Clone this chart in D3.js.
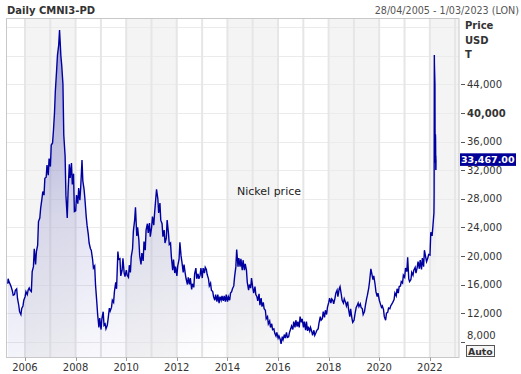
<!DOCTYPE html>
<html>
<head>
<meta charset="utf-8">
<script src="https://cdn.jsdelivr.net/npm/d3@7"></script>
<style>
  body { margin: 0; background: #fff; }
  svg { display: block; font-family: "DejaVu Sans", Verdana, sans-serif; }
</style>
</head>
<body>
<div id="chart"></div>
<script>
// first print of the series (28/04/2005)
const firstDay = "2005-04-28";
const firstPrice = 16100;
// two readings per month from May 2005 to Feb 2022: around the 3rd and around the 15th
const earlyMonthPrice = [
  16800, 16000, 15100, 14600, 15400, 13100, 11800, 13000,                             // 2005 May-Dec
  14300, 14600, 15500, 15000, 18500, 18800, 21500, 25300, 28000, 28500, 31000, 31300, // 2006
  32500, 35800, 40000, 46000, 49500, 48000, 44000, 34000, 25300, 32800, 33000, 31500, // 2007
  26300, 27300, 27800, 33400, 29300, 25500, 23000, 21000, 19500, 18600, 13500, 10000, // 2008
  9700, 12200, 10500, 10300, 12700, 12800, 13500, 16300, 20600, 19600, 18000, 17600,  // 2009
  18000, 17000, 17700, 21000, 25000, 22800, 22200, 18800, 19300, 20800, 24500, 24600, // 2010
  24000, 24300, 27900, 28000, 27400, 24500, 23600, 22500, 23200, 21800, 18000, 17600, // 2011
  17200, 19500, 20000, 17700, 17500, 16000, 16000, 15300, 15600, 18300, 17500, 17300, // 2012
  16900, 17600, 18100, 16800, 16200, 15000, 13800, 13600, 13400, 13800, 13700, 13600, // 2013
  13600, 13800, 15000, 15800, 18500, 18500, 18500, 18000, 18000, 18000, 15200, 15500, // 2014
  15500, 15700, 14300, 14700, 14100, 13500, 12400, 11500, 10900, 10500, 9800, 8800,   // 2015
  8500, 8300, 8700, 9000, 9300, 8700, 9800, 9700, 10000, 10100, 10000, 10700,         // 2016
  10000, 9600, 9500, 9500, 9400, 9600, 9300, 9800, 11500, 11200, 11400, 11800,        // 2017
  13500, 13400, 13800, 14100, 15200, 15400, 14600, 13400, 13500, 13600, 11500, 11300, // 2018
  11000, 12800, 13400, 13300, 12600, 12200, 14000, 15500, 18200, 16700, 16000, 14300, // 2019
  13800, 12800, 12500, 11000, 12100, 12600, 13300, 13900, 14400, 14800, 15800, 16200, // 2020
  17000, 17800, 16800, 16700, 17300, 18400, 18400, 18200, 18100, 18500, 19800, 19700, // 2021
  20100, 22800                                                                        // 2022 Jan-Feb
];
const midMonthPrice = [
  16400, 15700, 14500, 15200, 14050, 12200, 12650, 13800,                             // 2005 May-Dec
  15000, 15200, 15200, 17800, 21000, 20600, 24800, 26650, 29000, 30850, 32700, 33600, // 2006
  35500, 37400, 43000, 48100, 51600, 46700, 36900, 28500, 29000, 30900, 30000, 26200, // 2007
  28500, 29500, 29500, 30500, 28000, 24300, 21800, 20800, 18300, 16000, 11800, 11300, // 2008
  11200, 10300, 9800, 11200, 12300, 13800, 15000, 15400, 19500, 17200, 19650, 17100,  // 2009
  17300, 18700, 19900, 23500, 26800, 24000, 20000, 20400, 22000, 23600, 23200, 22700, // 2010
  25500, 26000, 29300, 26000, 25000, 22700, 21800, 25000, 21600, 19900, 19500, 18500, // 2011
  18600, 21900, 19200, 18800, 16800, 17000, 16900, 16100, 17500, 16800, 16800, 18300, // 2012
  18300, 18400, 17400, 15800, 15200, 14300, 14600, 14600, 14300, 14400, 14400, 14600, // 2013
  14300, 14800, 15400, 17100, 20900, 19700, 19600, 19400, 18900, 16300, 16000, 16900, // 2014
  14800, 14600, 13700, 13100, 12900, 12600, 11200, 10500, 10000, 9700, 9200, 9300,    // 2015
  8800, 7700, 8300, 8500, 8600, 9300, 10200, 10800, 11000, 10800, 11500, 11200,       // 2016
  10800, 10800, 10100, 10000, 8900, 8900, 9600, 10600, 11000, 12200, 12400, 12800,    // 2017
  14100, 14000, 13300, 14800, 14300, 15700, 13800, 14000, 13000, 12600, 12600, 10700, // 2018
  11800, 13000, 12900, 12800, 11800, 13000, 14500, 16400, 17600, 17200, 15000, 14800, // 2019
  13400, 13000, 11500, 12000, 12700, 13000, 13500, 14800, 15400, 15700, 16400, 17300, // 2020
  18300, 19800, 16400, 17700, 18000, 17600, 19200, 19400, 19700, 20800, 19200, 20200, // 2021
  23300, 24200                                                                        // 2022 Jan-Feb
];
// the March 2022 squeeze, day by day
const marchDays  = [1, 3, 4, 7, 8, 16, 17, 18, 21, 22, 23, 25, 28, 29, 30, 31];
const marchPrice = [26000, 27500, 29000, 48100, 47000, 44000, 40000, 35500, 37000, 33000, 37000, 36500, 32000, 34000, 32000, 33467];

const yTicks = [8000, 12000, 16000, 20000, 24000, 28000, 32000, 36000, 40000, 44000];
const gridValues = [8000, 12000, 16000, 20000, 24000, 28000, 32000, 36000, 40000, 44000, 48000, 52000];
const yearLabels = [2006, 2008, 2010, 2012, 2014, 2016, 2018, 2020, 2022];
const bandStarts = [2006, 2010, 2014, 2018, 2022];
const lastPrice = 33467;

const width = 521, height = 374;
const plotLeft = 7, plotRight = 459, plotTop = 18, plotBottom = 357;

const data = [{ date: d3.timeParse("%Y-%m-%d")(firstDay), value: firstPrice }];
earlyMonthPrice.forEach((v, i) => {
  const m = d3.timeMonth.offset(new Date(2005, 4, 1), i);
  data.push({ date: new Date(m.getFullYear(), m.getMonth(), 3), value: v });
  data.push({ date: new Date(m.getFullYear(), m.getMonth(), 15), value: midMonthPrice[i] });
});
marchDays.forEach((d, i) => {
  data.push({ date: new Date(2022, 2, d), value: marchPrice[i] });
});

const svg = d3.select("#chart").append("svg")
  .attr("width", width)
  .attr("height", height);

const x = d3.scaleTime()
  .domain([new Date(2005, 3, 28), new Date(2023, 2, 1)])
  .range([7.8, 459.2]);

const y = d3.scaleLinear()
  .domain([8000, 44000])
  .range([341.7, 84.3]);

const yearDate = yr => new Date(yr, 0, 1);

// background bands, two years each
svg.append("g").selectAll("rect")
  .data(bandStarts)
  .enter()
  .append("rect")
  .attr("x", d => x(yearDate(d)))
  .attr("y", plotTop)
  .attr("width", d => Math.min(plotRight, x(yearDate(d + 2))) - x(yearDate(d)))
  .attr("height", plotBottom - plotTop)
  .attr("fill", "#f4f4f4");

// horizontal grid
svg.append("g").selectAll("line")
  .data(gridValues)
  .enter()
  .append("line")
  .attr("x1", plotLeft)
  .attr("x2", plotRight)
  .attr("y1", d => Math.round(y(d)) + 0.5)
  .attr("y2", d => Math.round(y(d)) + 0.5)
  .attr("stroke", "#ebebeb")
  .attr("stroke-width", 1);

// year lines
svg.append("g").selectAll("line")
  .data(d3.range(2006, 2024))
  .enter()
  .append("line")
  .attr("x1", d => x(yearDate(d)))
  .attr("x2", d => x(yearDate(d)))
  .attr("y1", plotTop)
  .attr("y2", plotBottom)
  .attr("stroke", "#e6e6e6")
  .attr("stroke-width", 2);

const defs = svg.append("defs");
const grad = defs.append("linearGradient")
  .attr("id", "areaFill")
  .attr("x1", "0").attr("y1", "0")
  .attr("x2", "0.5").attr("y2", "1");
grad.append("stop").attr("offset", "0%").attr("stop-color", "#000099").attr("stop-opacity", 0.38);
grad.append("stop").attr("offset", "50%").attr("stop-color", "#000099").attr("stop-opacity", 0.12);
grad.append("stop").attr("offset", "100%").attr("stop-color", "#000099").attr("stop-opacity", 0.0);

const area = d3.area()
  .x(d => x(d.date))
  .y0(plotBottom)
  .y1(d => y(d.value));

const line = d3.line()
  .x(d => x(d.date))
  .y(d => y(d.value));

svg.append("path")
  .datum(data)
  .attr("d", area)
  .attr("fill", "url(#areaFill)");

svg.append("path")
  .datum(data)
  .attr("d", line)
  .attr("fill", "none")
  .attr("stroke", "#0000a0")
  .attr("stroke-width", 1.4);

// frame
svg.append("rect")
  .attr("x", 6.5)
  .attr("y", plotTop + 0.5)
  .attr("width", plotRight - 6.5)
  .attr("height", plotBottom - plotTop)
  .attr("fill", "none")
  .attr("stroke", "#c8c8c8");

// bottom axis
svg.append("g").selectAll("line")
  .data(yearLabels)
  .enter()
  .append("line")
  .attr("x1", d => Math.round(x(yearDate(d))) + 0.5)
  .attr("x2", d => Math.round(x(yearDate(d))) + 0.5)
  .attr("y1", plotBottom + 0.5)
  .attr("y2", plotBottom + 4)
  .attr("stroke", "#999");

svg.append("g").selectAll("text")
  .data(yearLabels)
  .enter()
  .append("text")
  .attr("x", d => x(yearDate(d)))
  .attr("y", 371)
  .attr("text-anchor", "middle")
  .attr("fill", "#333")
  .style("font-size", "10px")
  .text(d => d);

// right axis
const fmt = d3.format(",");
const ticks = svg.append("g");
ticks.selectAll("line")
  .data(yTicks)
  .enter()
  .append("line")
  .attr("x1", 461)
  .attr("x2", 465)
  .attr("y1", d => Math.round(y(d)) + 0.5)
  .attr("y2", d => Math.round(y(d)) + 0.5)
  .attr("stroke", "#555");

ticks.selectAll("text")
  .data(yTicks)
  .enter()
  .append("text")
  .attr("x", 467)
  .attr("y", d => y(d) + (d === 8000 ? -6 : 0))
  .attr("dy", "0.36em")
  .attr("fill", "#333")
  .style("font-size", "10px")
  .style("font-weight", d => d === 40000 ? "bold" : "normal")
  .text(d => fmt(d));

["Price", "USD", "T"].forEach((t, i) => {
  svg.append("text")
    .attr("x", 465)
    .attr("y", 29 + i * 14.7)
    .attr("fill", "#333")
    .style("font-size", "10px")
    .style("font-weight", "bold")
    .text(t);
});

// last value marker
svg.append("rect")
  .attr("x", 460)
  .attr("y", y(lastPrice) - 6.3)
  .attr("width", 56)
  .attr("height", 12.6)
  .attr("fill", "#000099");

svg.append("text")
  .attr("x", 461)
  .attr("y", y(lastPrice))
  .attr("dy", "0.36em")
  .attr("fill", "#fff")
  .style("font-size", "9.5px")
  .style("font-weight", "bold")
  .text(d3.format(",.2f")(lastPrice));

// Auto button
svg.append("rect")
  .attr("x", 466.5)
  .attr("y", 345.5)
  .attr("width", 28)
  .attr("height", 11)
  .attr("fill", "#f6f6f6")
  .attr("stroke", "#555");

svg.append("text")
  .attr("x", 468)
  .attr("y", 354.5)
  .attr("fill", "#333")
  .style("font-size", "9.3px")
  .style("font-weight", "bold")
  .text("Auto");

// header
svg.append("text")
  .attr("x", 7)
  .attr("y", 14)
  .attr("fill", "#333")
  .style("font-size", "10px")
  .style("font-weight", "bold")
  .text("Daily CMNI3-PD");

svg.append("text")
  .attr("x", 519)
  .attr("y", 14)
  .attr("text-anchor", "end")
  .attr("fill", "#555")
  .style("font-size", "9.6px")
  .text("28/04/2005 - 1/03/2023 (LON)");

svg.append("text")
  .attr("x", 237)
  .attr("y", 195)
  .attr("fill", "#222")
  .style("font-size", "11px")
  .text("Nickel price");
</script>
</body>
</html>
